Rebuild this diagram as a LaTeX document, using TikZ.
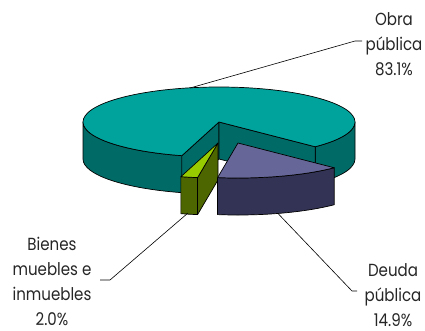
\documentclass[tikz,border=0pt]{standalone}
\usepackage{fontspec}
\setmainfont{Poppins}[FakeStretch=0.86]
\definecolor{obraTop}{HTML}{00A39B}
\definecolor{obraSide}{HTML}{006B66}
\definecolor{deudaTop}{HTML}{666699}
\definecolor{deudaSide}{HTML}{333355}
\definecolor{bienTop}{HTML}{99CC00}
\definecolor{bienSide}{HTML}{4D6600}
\begin{document}
\begin{tikzpicture}[x=1pt,y=1pt,line join=round,
  face/.style={draw=black,line width=0.7pt},
  lbl/.style={align=center,font=\fontsize{17.5}{25}\selectfont,inner sep=0pt,anchor=base,text=black!85},
  leader/.style={draw=black,line width=0.6pt},
  ell/.style={x radius=136pt,y radius=35pt}]
\useasboundingbox (0,0) rectangle (425,-330);
% centres
\coordinate (C) at (219,-122);
\coordinate (Cb) at (219,-159);
\coordinate (B) at (218,-143);
\coordinate (Bb) at (218,-180);
\coordinate (D) at (238,-143);
% ---- Obra publica (main slice)
\path[face,fill=obraSide] (C) ++(180:136 and 35) arc[start angle=180,end angle=254.16,ell] -- ++(0,-37) arc[start angle=254.16,end angle=180,ell] -- cycle;
\path[face,fill=obraSide] (C) ++(-45:136 and 35) arc[start angle=-45,end angle=0,ell] -- ++(0,-37) arc[start angle=0,end angle=-45,ell] -- cycle;
\path[face,fill=obraSide] (C) -- ++(254.16:136 and 35) -- ++(0,-37) -- (Cb) -- cycle;
\path[face,fill=obraSide] (C) -- ++(-45:136 and 35) -- ++(0,-37) -- (Cb) -- cycle;
\path[face,fill=obraTop] (C) -- ++(-45:136 and 35) arc[start angle=-45,end angle=254.16,ell] -- cycle;
% ---- Bienes
\path[face,fill=bienSide] (B) -- ++(-98.64:136 and 35) -- ++(0,-37) -- (Bb) -- cycle;
\path[face,fill=bienSide] (B) ++(-105.84:136 and 35) arc[start angle=-105.84,end angle=-98.64,ell] -- ++(0,-37) arc[start angle=-98.64,end angle=-105.84,ell] -- cycle;
\path[face,fill=bienTop] (B) -- ++(-105.84:136 and 35) arc[start angle=-105.84,end angle=-98.64,ell] -- cycle;
% ---- Deuda
\path[face,fill=deudaSide] (D) ++(-98.64:136 and 35) arc[start angle=-98.64,end angle=-45,ell] -- ++(0,-37) arc[start angle=-45,end angle=-98.64,ell] -- cycle;
\path[face,fill=deudaTop] (D) -- ++(-98.64:136 and 35) arc[start angle=-98.64,end angle=-45,ell] -- cycle;
% ---- labels (base anchor = baseline of last line)
\node[lbl] (obra) at (394,-75) {Obra\\pública\\83.1\%};
\node[lbl] (deuda) at (393,-326.5) {Deuda\\pública\\14.9\%};
\node[lbl] (bienes) at (52,-325.5) {Bienes\\muebles e\\inmuebles\\2.0\%};
\coordinate (obraTip) at (190,-88);
\coordinate (obraKnee) at (355,-41);
\coordinate (obraEnd) at (362,-41);
\coordinate (deudaTip) at (278,-213.5);
\coordinate (deudaKnee) at (352,-291);
\coordinate (deudaEnd) at (357,-291);
\coordinate (bienTip) at (188,-213);
\coordinate (bienKnee) at (110,-280);
\coordinate (bienEnd) at (100,-280);
\draw[leader] (obraTip) -- (obraKnee) -- (obraEnd);
\draw[leader] (deudaTip) -- (deudaKnee) -- (deudaEnd);
\draw[leader] (bienTip) -- (bienKnee) -- (bienEnd);
\end{tikzpicture}
\end{document}
